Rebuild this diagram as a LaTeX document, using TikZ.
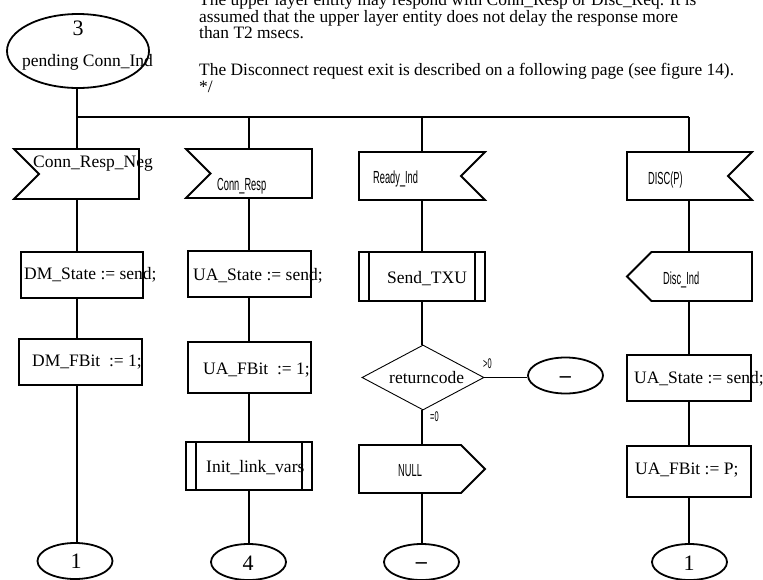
\documentclass[tikz,border=0pt]{standalone}
\usepackage{fontspec}
\setmainfont{Liberation Serif}
\newfontfamily\narfont{Liberation Sans}
\usepackage{graphicx}
\usetikzlibrary{shapes.geometric,shapes.symbols}
\newcommand{\nrw}[1]{\scalebox{0.53}[1]{\narfont #1}}
\tikzset{
  sdl/.style={draw, line width=1.8pt, inner sep=0pt},
  task/.style={sdl, rectangle},
  proc/.style={task, path picture={
      \draw[line width=1.8pt] ([xshift=10pt]path picture bounding box.north west) -- ([xshift=10pt]path picture bounding box.south west)
        ([xshift=-10pt]path picture bounding box.north east) -- ([xshift=-10pt]path picture bounding box.south east);}},
  inl/.style={sdl, signal, signal to=nowhere, signal from=west, signal pointer angle=90},
  inr/.style={sdl, signal, signal to=nowhere, signal from=east, signal pointer angle=90},
  outl/.style={sdl, signal, signal to=west, signal pointer angle=90},
  outr/.style={sdl, signal, signal to=east, signal pointer angle=90},
  conn/.style={sdl, ellipse, minimum width=75pt, minimum height=36pt},
  wire/.style={line width=1.8pt},
  txt/.style={anchor=base west, inner sep=0pt, font=\fontsize{17.5}{21}\selectfont},
  tiny/.style={anchor=base west, inner sep=0pt, font=\fontsize{14}{16}\selectfont},
  big/.style={anchor=base, inner sep=0pt, font=\fontsize{22}{26}\selectfont},
}
\begin{document}
\begin{tikzpicture}[x=1pt,y=-1pt]
  \useasboundingbox (0,0) rectangle (763,579);
  \clip (0,0) rectangle (763,579);
  % comment text
  \node[anchor=base west, inner sep=0pt, align=left, font=\fontsize{17.4}{16.5}\selectfont] (note) at (199,92)
    {The upper layer entity may respond with Conn\_Resp or Disc\_Req. It is\\
     assumed that the upper layer entity does not delay the response more\\
     than T2 msecs.\\[20.5pt]
     The Disconnect request exit is described on a following page (see figure 14).\\
     */};
  % columns
  \coordinate (k1) at (77,0);
  \coordinate (k2) at (249,0);
  \coordinate (k3) at (422,0);
  \coordinate (k4) at (689,0);
  \coordinate (tl) at (77,117);
  \coordinate (tr) at (689,117);
  % state
  \node[sdl, ellipse, minimum width=142pt, minimum height=74pt] (st3) at (78,51) {};
  \node[big] (t3) at (78,35) {3};
  \node[txt] (tpend) at (22,66) {pending Conn\_Ind};
  % inputs
  \node[inl, minimum width=125pt, minimum height=50pt] (cin1) at (89,174) {};
  \node[inl, minimum width=126pt, minimum height=49pt] (cin2) at (261.25,173.5) {};
  \node[inr, minimum width=126pt, minimum height=48pt] (cin3) at (410,176) {};
  \node[inr, minimum width=125pt, minimum height=48pt] (cin4) at (677.5,176) {};
  \node[txt] (tneg) at (33,167) {Conn\_Resp\_Neg};
  \node[txt] (tresp) at (217,190) {\nrw{Conn\_Resp}};
  \node[txt] (tready) at (373,183) {\nrw{Ready\_Ind}};
  \node[txt] (tdisc) at (648,184) {\nrw{DISC(P)}};
  % column 1
  \node[task, minimum width=122pt, minimum height=46pt] (dm1) at (82,275) {};
  \node[task, minimum width=123pt, minimum height=46pt] (dm2) at (80.5,362) {};
  \node[conn] (c1) at (75,561) {};
  \node[txt] (tdm1) at (24,279.5) {DM\_State := send;};
  \node[txt] (tdm2) at (32,366.7) {DM\_FBit\ \ := 1;};
  \node[big] (tc1) at (76,568) {1};
  % column 2
  \node[task, minimum width=123pt, minimum height=46pt] (ua1) at (249.5,274) {};
  \node[task, minimum width=123pt, minimum height=51pt] (ua2) at (249.5,367.5) {};
  \node[proc, minimum width=126pt, minimum height=48pt] (init) at (249,466) {};
  \node[conn] (c4) at (248.5,562) {};
  \node[txt] (tua1) at (193,280) {UA\_State := send;};
  \node[txt] (tua2) at (203,374) {UA\_FBit\ \ := 1;};
  \node[txt] (tinit) at (206,472) {Init\_link\_vars};
  \node[big] (tc4) at (248,570) {4};
  % column 3
  \node[proc, minimum width=126pt, minimum height=49pt] (send) at (422,276.5) {};
  \node[sdl, diamond, line width=0.9pt, minimum width=122pt, minimum height=65pt] (dec) at (423,377.5) {};
  \node[conn] (stopR) at (565.5,375.5) {};
  \node[outr, minimum width=126pt, minimum height=48pt] (nul) at (410,469) {};
  \node[conn] (stopB) at (421.5,562) {};
  \node[txt] (tsend) at (387,283) {Send\_TXU};
  \node[txt] (tdec) at (389,383) {returncode};
  \node[tiny] (tgt) at (483,368) {\nrw{>0}};
  \node[tiny] (teq) at (430,421) {\nrw{=0}};
  \node[txt] (tnul) at (398,476) {\nrw{NULL}};
  \node[big, anchor=center] (tstR) at (565.5,380) {\textbf{--}};
  \node[big, anchor=center] (tstB) at (421.5,566) {\textbf{--}};
  % column 4
  \node[outl, minimum width=125pt, minimum height=49pt] (dind) at (701.75,276.5) {};
  \node[task, minimum width=124pt, minimum height=46pt] (ua3) at (689,378) {};
  \node[task, minimum width=124pt, minimum height=51pt] (ua4) at (689,471.5) {};
  \node[conn] (c1r) at (689.5,562) {};
  \node[txt] (tdind) at (663,284) {\nrw{Disc\_Ind}};
  \node[txt] (tua3) at (634,383) {UA\_State := send;};
  \node[txt] (tua4) at (635,474) {UA\_FBit := P;};
  \node[big] (tc1r) at (689,570) {1};
  % connectors
  \draw[wire] (tl) -- (tr);
  \foreach \c/\k in {cin2/k2,cin3/k3,cin4/k4}
    \draw[wire] (\c.north -| \k) -- (tl -| \k);
  \foreach \a/\b/\k in {st3/cin1/k1,cin1/dm1/k1,dm1/dm2/k1,dm2/c1/k1,
                        cin2/ua1/k2,ua1/ua2/k2,ua2/init/k2,init/c4/k2,
                        cin3/send/k3,send/dec/k3,dec/nul/k3,nul/stopB/k3,
                        cin4/dind/k4,dind/ua3/k4,ua3/ua4/k4,ua4/c1r/k4}
    \draw[wire] (\a.south -| \k) -- (\b.north -| \k);
  \draw[wire] (dec.east) -- (dec.east -| stopR.west);
\end{tikzpicture}
\end{document}
